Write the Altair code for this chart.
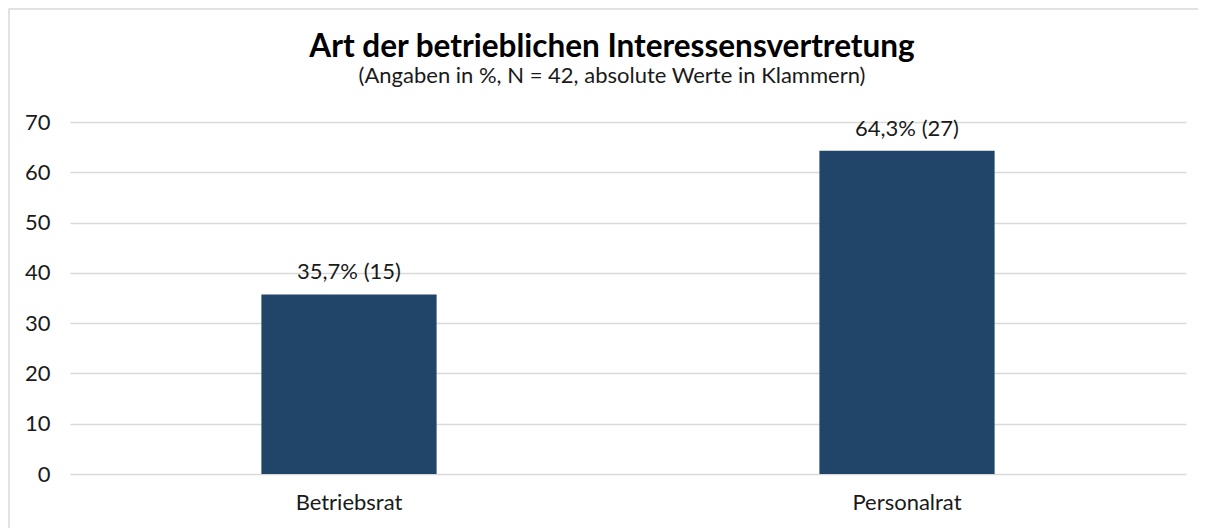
import altair as alt
import pandas as pd

categories = ["Betriebsrat", "Personalrat"]
percent = [35.7, 64.3]
counts = [15, 27]
labels = ["35,7% (15)", "64,3% (27)"]

df = pd.DataFrame({"cat": categories, "pct": percent, "n": counts, "label": labels})

FONT = "Lato"
TXT = "#1a1a1a"
W, H = 1116, 352

base = alt.Chart(df)

bars = base.mark_bar(color="#204569").encode(
    x=alt.X("cat:N", sort=categories, title=None,
            scale=alt.Scale(paddingInner=0.686, paddingOuter=0.343),
            axis=alt.Axis(labelAngle=0, labelFontSize=22, labelPadding=18,
                          domain=False, ticks=False, grid=False,
                          labelColor=TXT, labelFont=FONT)),
    y=alt.Y("pct:Q", title=None,
            scale=alt.Scale(domain=[0, 70]),
            axis=alt.Axis(values=[0, 10, 20, 30, 40, 50, 60, 70], labelFontSize=22,
                          labelPadding=20, domain=False, ticks=False,
                          gridColor="#d9d9d9", gridWidth=1.5, labelColor=TXT,
                          labelFont=FONT)),
)

text = base.mark_text(baseline="bottom", dy=-10, fontSize=22, font=FONT, color=TXT).encode(
    x=alt.X("cat:N", sort=categories),
    y=alt.Y("pct:Q"),
    text="label:N",
)

frame = alt.Chart(pd.DataFrame({"a": [0]})).mark_rect(
    fill="transparent", stroke="#d9d9d9", strokeWidth=1.5
).encode(
    x=alt.value(-61), x2=alt.value(W + 40), y=alt.value(-113), y2=alt.value(H + 80)
)

chart = alt.layer(frame, bars, text).properties(
    width=W, height=H,
    padding={"left": 62, "top": 114, "right": 12, "bottom": 54},
    autosize=alt.AutoSizeParams(type="none"),
    view=alt.ViewBackground(stroke="transparent", strokeWidth=0),
    title=alt.TitleParams(
        text="Art der betrieblichen Interessensvertretung",
        subtitle="(Angaben in %, N = 42, absolute Werte in Klammern)",
        anchor="middle", dx=-16, offset=-79,
        font=FONT, fontSize=31.5, fontWeight="bold", color="#000000",
        subtitleFont=FONT, subtitleFontSize=22, subtitleColor=TXT, subtitlePadding=3,
    ),
).configure_view(stroke="transparent", strokeWidth=0).configure(background="white")

chart.save("out.html", embed_options={"renderer": "svg", "actions": False})
